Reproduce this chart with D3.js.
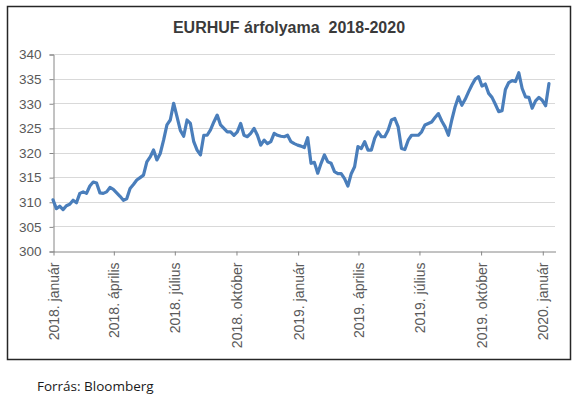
<!DOCTYPE html>
<html>
<head>
<meta charset="utf-8">
<script src="https://cdn.jsdelivr.net/npm/d3@7/dist/d3.min.js"></script>
<style>
  html, body { margin: 0; padding: 0; background: #fff; }
  svg { display: block; }
</style>
</head>
<body>
<svg id="chart" width="578" height="399"></svg>
<script>
// ---- Data ----
const title = "EURHUF árfolyama  2018-2020";
const source = "Forrás: Bloomberg";
const startDate = "2018-01-01";   // first observation
const stepDays = 5;               // spacing between the sampled observations
const eurhuf = [
  310.4, 308.6, 309.1, 308.4, 309.2, 309.5, 310.3, 309.8, 311.7, 312.0,
  311.7, 313.2, 314.0, 313.8, 311.8, 311.7, 312.0, 312.9, 312.5, 311.8,
  311.1, 310.3, 310.6, 312.7, 313.5, 314.4, 314.9, 315.4, 318.1, 319.1,
  320.5, 318.5, 319.8, 322.5, 325.6, 326.6, 330.0, 327.3, 324.5, 323.3,
  326.6, 325.9, 322.2, 320.5, 319.5, 323.5, 323.5, 324.6, 326.2, 327.6,
  325.6, 324.9, 324.2, 324.2, 323.5, 324.2, 325.9, 323.5, 323.2, 323.9,
  324.9, 323.5, 321.5, 322.5, 321.8, 322.2, 323.9, 323.5, 323.3, 323.2,
  323.5, 322.2, 321.8, 321.5, 321.3, 321.0, 323.0, 317.8, 318.0, 315.8,
  317.8, 319.5, 318.1, 317.8, 316.1, 315.7, 315.7, 314.7, 313.2, 315.7,
  317.1, 321.2, 320.8, 322.2, 320.5, 320.5, 322.9, 324.2, 323.2, 323.2,
  324.5, 326.6, 326.9, 325.2, 320.8, 320.6, 322.5, 323.5, 323.5, 323.5,
  324.2, 325.6, 325.9, 326.2, 327.1, 327.9, 326.4, 325.2, 323.5, 326.6,
  329.3, 331.3, 329.6, 330.8, 332.3, 333.7, 334.9, 335.4, 333.5, 333.9,
  332.0, 331.2, 329.8, 328.3, 328.5, 332.8, 334.2, 334.6, 334.4, 336.2,
  333.0, 331.3, 331.2, 329.0, 330.5, 331.2, 330.6, 329.5, 334.0
];
const yTicks = [300, 305, 310, 315, 320, 325, 330, 335, 340];
const monthNames = ["január","február","március","április","május","június",
                    "július","augusztus","szeptember","október","november","december"];
const xDomain = ["2018-01-01", "2020-01-20"];

// ---- Build ----
const parse = d3.utcParse("%Y-%m-%d");
const t0 = parse(startDate);
const series = eurhuf.map((v, i) => ({ date: d3.utcDay.offset(t0, i * stepDays), value: v }));

const svg = d3.select("#chart");
const plotL = 53, plotR = 555, plotT = 54, plotB = 251;

const x = d3.scaleUtc().domain(xDomain.map(parse)).range([plotL, plotR]);
const y = d3.scaleLinear().domain([300, 340]).range([plotB, plotT]);

// outer frame
svg.append("rect")
  .attr("x", 7.5).attr("y", 6.5).attr("width", 563).attr("height", 353)
  .attr("fill", "#fff").attr("stroke", "#262626").attr("stroke-width", 1.5);

// title
svg.append("text")
  .attr("x", 289).attr("y", 33)
  .attr("text-anchor", "middle")
  .attr("font-family", "Liberation Sans, Arial, sans-serif")
  .attr("font-size", 16).attr("font-weight", "bold")
  .attr("fill", "#3a3a3a")
  .style("white-space", "pre")
  .text(title);

// gridlines
svg.append("g").selectAll("line")
  .data(yTicks.filter(d => d !== 300))
  .join("line")
  .attr("x1", plotL).attr("x2", plotR)
  .attr("y1", d => Math.round(y(d)) + 0.5).attr("y2", d => Math.round(y(d)) + 0.5)
  .attr("stroke", "#d9d9d9").attr("stroke-width", 1);

// y axis
const yAxis = d3.axisLeft(y).tickValues(yTicks).tickSize(4).tickPadding(8)
  .tickFormat(d3.format("d"));
const gy = svg.append("g").attr("transform", `translate(${plotL + 0.5},0.5)`).call(yAxis);
gy.select(".domain").attr("stroke", "#868686");
gy.selectAll(".tick line").attr("stroke", "#868686");
gy.selectAll(".tick text")
  .attr("font-family", "Liberation Sans, Arial, sans-serif")
  .attr("font-size", 13.5).attr("fill", "#595959");

// x axis
const xTickDates = d3.utcMonth.every(3).range(parse("2018-01-01"), parse("2020-01-02"));
const xAxis = d3.axisBottom(x).tickValues(xTickDates).tickSize(4).tickSizeOuter(0)
  .tickFormat(d => `${d.getUTCFullYear()}. ${monthNames[d.getUTCMonth()]}`);
const gx = svg.append("g").attr("transform", `translate(0.5,${plotB + 0.5})`).call(xAxis);
gx.select(".domain").attr("stroke", "#868686");
gx.selectAll(".tick line").attr("stroke", "#868686");
gx.selectAll(".tick text")
  .attr("font-family", "Liberation Sans, Arial, sans-serif")
  .attr("font-size", 14).attr("fill", "#595959")
  .attr("text-anchor", "end")
  .attr("transform", "rotate(-90)")
  .attr("x", -11).attr("y", 0).attr("dy", "0.35em");

// line
const line = d3.line().x(d => x(d.date)).y(d => y(d.value));
svg.append("path")
  .datum(series)
  .attr("d", line)
  .attr("fill", "none")
  .attr("stroke", "#4a7ebb")
  .attr("stroke-width", 3.2)
  .attr("stroke-linejoin", "round")
  .attr("stroke-linecap", "round");

// source note
svg.append("text")
  .attr("x", 37).attr("y", 391)
  .attr("font-family", "Open Sans, Lato, sans-serif")
  .attr("font-size", 13.5).attr("fill", "#1a1a1a")
  .text(source);
</script>
</body>
</html>
